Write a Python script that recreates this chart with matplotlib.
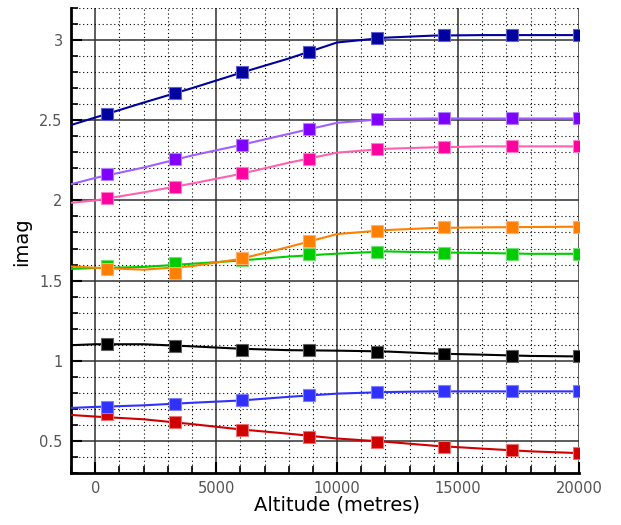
import matplotlib
matplotlib.use("Agg")
import matplotlib.pyplot as plt
from matplotlib.ticker import MultipleLocator

plt.rcParams['font.family'] = ['DejaVu Sans']

# Marker positions (altitude, m)
marker_x = [500, 3286, 6071, 8857, 11643, 14429, 17214, 20000]
# Line sample positions (altitude, m)
line_x = [-1000, 0, 2000, 4000, 6000, 8000, 10000, 12000, 14000, 16000, 18000, 20000]

series_names = ["navy", "purple", "pink", "orange", "green", "black", "blue", "red"]

navy_line = [2.470, 2.517, 2.610, 2.700, 2.795, 2.885, 2.985, 3.015, 3.028, 3.031, 3.031, 3.031]
navy_mark = [2.540, 2.668, 2.799, 2.923, 3.012, 3.031, 3.031, 3.031]

purple_line = [2.101, 2.140, 2.205, 2.280, 2.345, 2.415, 2.484, 2.508, 2.511, 2.511, 2.511, 2.511]
purple_mark = [2.163, 2.257, 2.348, 2.443, 2.505, 2.511, 2.511, 2.511]

pink_line = [1.985, 2.000, 2.050, 2.105, 2.165, 2.235, 2.298, 2.322, 2.331, 2.337, 2.337, 2.337]
pink_mark = [2.012, 2.085, 2.168, 2.257, 2.319, 2.331, 2.337, 2.337]

orange_line = [1.588, 1.580, 1.568, 1.590, 1.635, 1.710, 1.790, 1.815, 1.828, 1.832, 1.834, 1.836]
orange_mark = [1.571, 1.547, 1.643, 1.749, 1.811, 1.832, 1.832, 1.836]

green_line = [1.573, 1.578, 1.585, 1.605, 1.625, 1.650, 1.668, 1.682, 1.676, 1.672, 1.667, 1.667]
green_mark = [1.588, 1.609, 1.630, 1.665, 1.681, 1.675, 1.667, 1.668]

black_line = [1.097, 1.103, 1.103, 1.090, 1.075, 1.066, 1.063, 1.058, 1.045, 1.038, 1.030, 1.027]
black_mark = [1.106, 1.093, 1.068, 1.064, 1.056, 1.041, 1.031, 1.027]

blue_line = [0.706, 0.712, 0.722, 0.738, 0.752, 0.775, 0.795, 0.805, 0.809, 0.809, 0.809, 0.809]
blue_mark = [0.712, 0.733, 0.753, 0.786, 0.805, 0.809, 0.809, 0.809]

red_line = [0.662, 0.652, 0.635, 0.605, 0.572, 0.545, 0.515, 0.495, 0.470, 0.452, 0.435, 0.424]
red_mark = [0.666, 0.619, 0.569, 0.522, 0.494, 0.461, 0.445, 0.424]

x_ticks = [0, 5000, 10000, 15000, 20000]
y_ticks = [0.5, 1, 1.5, 2, 2.5, 3]
y_tick_labels = ["0.5", "1", "1.5", "2", "2.5", "3"]

styles = [
    (navy_line, navy_mark, '#0000A0', '#0000A0', '#6060D0'),
    (purple_line, purple_mark, '#A060FF', '#8000FF', '#B080FF'),
    (pink_line, pink_mark, '#FF60B0', '#FF00A0', '#FF80C8'),
    (orange_line, orange_mark, '#FF8000', '#FF8000', '#FFB070'),
    (green_line, green_mark, '#00CC00', '#00CC00', '#70E070'),
    (black_line, black_mark, '#000000', '#000000', '#606060'),
    (blue_line, blue_mark, '#3030FF', '#3030FF', '#8080FF'),
    (red_line, red_mark, '#D00000', '#D00000', '#F07070'),
]

fig = plt.figure(figsize=(6.21, 5.25), dpi=100)
ax = fig.add_axes([71/621, 1-473/525, (579-71)/621, (473-8)/525])

ax.set_xlim(-1000, 20000)
ax.set_ylim(0.3, 3.2)

ax.xaxis.set_major_locator(MultipleLocator(5000))
ax.xaxis.set_minor_locator(MultipleLocator(1000))
ax.yaxis.set_major_locator(MultipleLocator(0.5))
ax.yaxis.set_minor_locator(MultipleLocator(0.1))
ax.set_xticks(x_ticks)
ax.set_yticks(y_ticks)
ax.set_yticklabels(y_tick_labels)

ax.grid(which='major', color='#303030', linestyle='-', linewidth=1.1)
ax.grid(which='minor', color='#000000', linestyle=(0, (1, 2.5)), linewidth=0.8)
ax.set_axisbelow(True)

for lv, mv, lc, mc, ec in reversed(styles):
    ax.plot(line_x, lv, color=lc, linewidth=1.5, zorder=3)
for lv, mv, lc, mc, ec in reversed(styles):
    ax.plot(marker_x, mv, linestyle='none', marker='s', markersize=8.5,
            markerfacecolor=mc, markeredgecolor=ec, markeredgewidth=0.8, zorder=4)

for s in ['top', 'right']:
    ax.spines[s].set_visible(False)
for s in ['left', 'bottom']:
    ax.spines[s].set_linewidth(2)
    ax.spines[s].set_color('black')

ax.tick_params(which='major', direction='in', length=8, width=1.5, colors='black',
               labelcolor='#555555', labelsize=10.5)
ax.tick_params(which='minor', direction='in', length=5, width=1.2, colors='black')
ax.tick_params(axis='x', pad=6)
ax.tick_params(axis='y', pad=6)

ax.set_xlabel('Altitude (metres)', fontsize=14, va='center')
ax.set_ylabel('imag', fontsize=14, va='center')
ax.xaxis.set_label_coords((337 - 71) / 508, (473 - 505) / 465)
ax.yaxis.set_label_coords((22 - 71) / 508, (473 - 242) / 465)

fig.savefig('out.png', dpi=100)
